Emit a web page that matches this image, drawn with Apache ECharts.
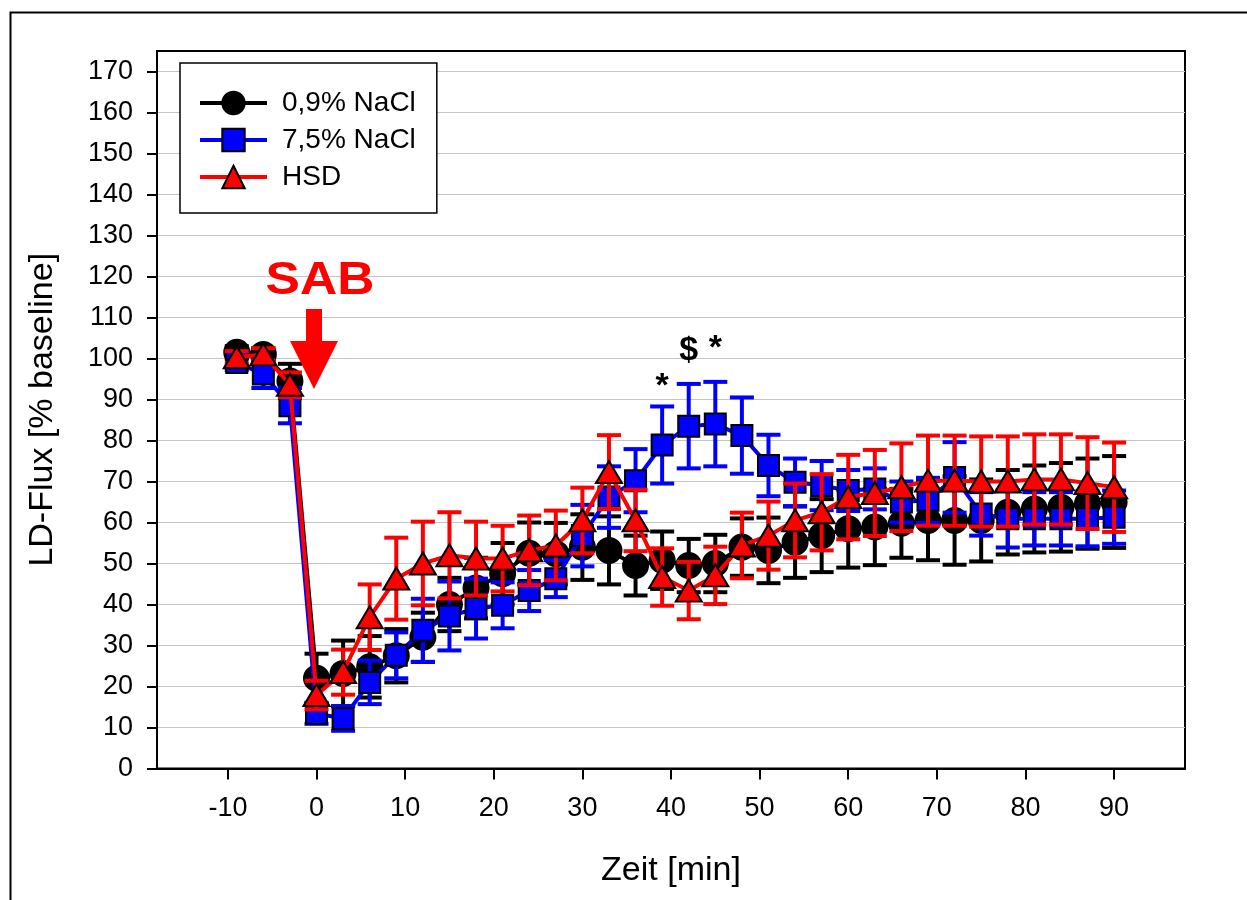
<!DOCTYPE html>
<html><head><meta charset="utf-8">
<script src="https://cdn.jsdelivr.net/npm/echarts@6/dist/echarts.min.js"></script>
<style>html,body{margin:0;padding:0;background:#fff}#c{width:1247px;height:900px}</style>
</head><body><div id="c"></div>
<script>
const times = [-9,-6,-3,0,3,6,9,12,15,18,21,24,27,30,33,36,39,42,45,48,51,54,57,60,63,66,69,72,75,78,81,84,87,90];
const nacl09Mean = [101.5,101,94.5,22,23.2,24.8,27.5,32,40,44,47.5,52.5,52.4,54,53.2,49.5,50.8,49.5,50,54,53.2,55.2,56.8,58.5,58.9,59.8,60.5,60.5,60.5,62.5,63.3,63.7,64.6,65];
const nacl09Err  = [1.5,1.5,4.2,6,8,7.5,6.5,6,6.5,7.4,7.5,7.5,7.5,8,8.3,7.3,7,6.5,7,7,8,8.7,8.9,9.5,9.3,8.4,9.7,10.8,10,10.3,10.6,10.8,11,11.2];
const nacl75Mean = [99,96.2,88.5,13.4,12.2,21,27.6,33.7,37.2,39,39.8,43.4,46.3,56.8,66.2,70.2,78.9,83.5,84,81.2,73.9,69.8,69,67.8,68.2,65,65.4,71,62.1,60.9,60.9,60.9,60.9,61.3];
const nacl75Err  = [1.8,3.4,4.3,2.5,3,5.3,5.6,7.7,8.4,7.3,5.6,5,4.5,7.5,7.5,7.7,9.4,10.3,10.3,9.3,7.5,5.8,6,5,5,5,5.5,8.6,5.3,7,6.5,6.5,6.7,6.5];
const hsdMean    = [100.3,101,93.6,17.9,23.5,36.9,46.3,50,52,51.2,51.2,53.2,54.4,60.5,72.3,60.5,46.7,43.4,47.1,54.4,56.8,60.5,62.5,66.2,67.2,68.6,70.2,70.2,70,70,70.5,70.5,69.6,68.6];
const hsdErr     = [1.5,1.5,3,3.5,5.5,8,10,10.2,10.5,9,8,8.5,8.5,8,9,7.5,7,7,7,8,8.3,9,9.3,10.3,10.5,10.7,11,11,11,11,11,11,11.2,10.9];
const seriesNames = ['0,9% NaCl','7,5% NaCl','HSD'];
const xTicks = [-10,0,10,20,30,40,50,60,70,80,90];
const yTicks = [0,10,20,30,40,50,60,70,80,90,100,110,120,130,140,150,160,170];
const annotX = [39,42,45];
const annotY = [93.2,101.9,102.4];
const annotText = ['*','$','*'];

const FONT = '"Liberation Sans", Arial, sans-serif';
const chart = echarts.init(document.getElementById('c'));

function errSeries(id, mean, err, color, z) {
  return {
    type: 'custom', name: id, z: z, silent: true,
    data: times.map((t, i) => [t, mean[i], err[i]]),
    encode: { x: 0, y: 1 },
    renderItem: function (params, api) {
      const x = api.value(0), m = api.value(1), e = api.value(2);
      const hi = api.coord([x, m + e]);
      const lo = api.coord([x, m - e]);
      const hw = 12;
      const st = { stroke: color, lineWidth: 4 };
      return { type: 'group', children: [
        { type: 'line', shape: { x1: hi[0], y1: hi[1], x2: lo[0], y2: lo[1] }, style: st },
        { type: 'line', shape: { x1: hi[0] - hw, y1: hi[1], x2: hi[0] + hw, y2: hi[1] }, style: st },
        { type: 'line', shape: { x1: lo[0] - hw, y1: lo[1], x2: lo[0] + hw, y2: lo[1] }, style: st }
      ]};
    }
  };
}
function lineSeries(name, mean, color, symbol, size, z) {
  return {
    type: 'line', name: name, z: z,
    data: times.map((t, i) => [t, mean[i]]),
    symbol: symbol, symbolSize: size, showAllSymbol: true,
    lineStyle: { color: color, width: 4 },
    itemStyle: { color: color, borderColor: '#000', borderWidth: 2 },
    emphasis: { disabled: true }
  };
}

chart.setOption({
  animation: false,
  backgroundColor: '#fff',
  grid: { left: 157, right: 62, top: 51, bottom: 131.5, show: true, borderColor: '#000', borderWidth: 2, backgroundColor: 'transparent' },
  legend: {
    data: seriesNames, orient: 'vertical', left: 180, top: 63,
    padding: [26, 21, 22, 18], itemGap: 9, itemWidth: 67, itemHeight: 28,
    borderColor: '#000', borderWidth: 1.5, backgroundColor: '#fff',
    lineStyle: { width: 4 },
    textStyle: { fontSize: 28, color: '#000', fontFamily: FONT, padding: [0, 0, 0, 10] },
    selectedMode: false
  },
  xAxis: {
    type: 'value', min: -18, max: 98,
    axisLine: { show: true, onZero: false, lineStyle: { color: '#000', width: 2 } },
    axisTick: { show: true, customValues: xTicks, length: 11, lineStyle: { color: '#000', width: 2 } },
    axisLabel: { customValues: xTicks, fontSize: 27, color: '#000', margin: 27, fontFamily: FONT },
    splitLine: { show: false },
    name: 'Zeit [min]', nameLocation: 'middle', nameGap: 85,
    nameTextStyle: { fontSize: 34, color: '#000', fontFamily: FONT }
  },
  yAxis: {
    type: 'value', min: 0, max: 175, interval: 10,
    axisLine: { show: true, onZero: false, lineStyle: { color: '#000', width: 2 } },
    axisTick: { show: true, customValues: yTicks, length: 10, lineStyle: { color: '#000', width: 2 } },
    axisLabel: { customValues: yTicks, fontSize: 27, color: '#000', margin: 24, fontFamily: FONT },
    splitLine: { show: true, lineStyle: { color: '#c4c4c4', width: 1 } },
    name: 'LD-Flux [% baseline]', nameLocation: 'middle', nameGap: 97,
    nameTextStyle: { fontSize: 34, color: '#000', fontFamily: FONT }
  },
  graphic: [
    { type: 'rect', left: 8, top: 10, shape: { x: 0, y: 0, width: 1400, height: 1000 }, style: { fill: 'none', stroke: '#000', lineWidth: 2 }, z: 100, silent: true },
    { type: 'text', x: 320, y: 281, scaleX: 1.12, style: { text: 'SAB', fill: '#ff0000', font: 'bold 46px ' + FONT, textAlign: 'center', textVerticalAlign: 'middle' }, z: 100 },
    { type: 'polygon', shape: { points: [[306,309],[322,309],[322,341],[338,341],[314,389],[290,341],[306,341]] }, style: { fill: '#ff0000' }, z: 100 }
  ],
  series: [
    errSeries('e1', nacl09Mean, nacl09Err, '#000000', 2),
    lineSeries(seriesNames[0], nacl09Mean, '#000000', 'circle', 25, 3),
    errSeries('e2', nacl75Mean, nacl75Err, '#0000ff', 4),
    lineSeries(seriesNames[1], nacl75Mean, '#0000ff', 'rect', 21, 5),
    errSeries('e3', hsdMean, hsdErr, '#ff0000', 6),
    lineSeries(seriesNames[2], hsdMean, '#ff0000', 'triangle', [26, 22], 7),
    {
      type: 'scatter', name: 'annot', z: 8, silent: true,
      data: annotX.map((x, i) => [x, annotY[i]]),
      symbol: 'circle', symbolSize: 1, itemStyle: { color: 'rgba(0,0,0,0)', opacity: 1 },
      label: { show: true, position: 'inside', formatter: p => annotText[p.dataIndex], fontSize: 34, fontWeight: 'bold', color: '#000', opacity: 1, fontFamily: FONT }
    }
  ]
});
</script>
</body></html>
